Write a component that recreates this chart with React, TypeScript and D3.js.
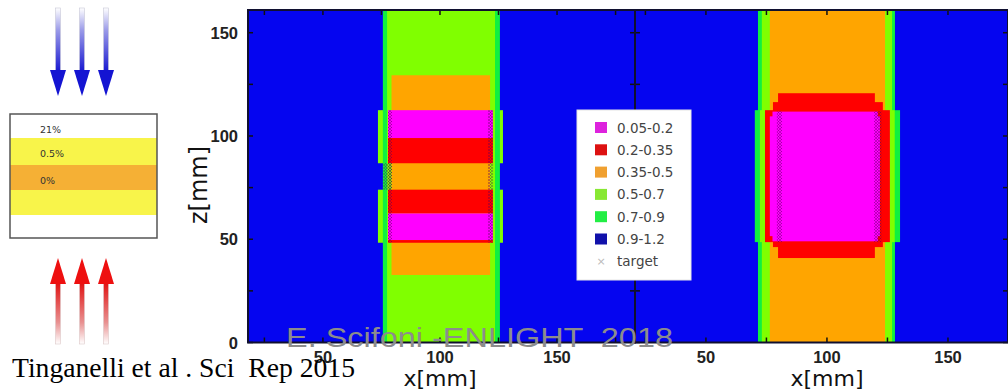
import React from "react";
import * as d3 from "d3";

// Legend categories (value ranges) and colours
const levels = ["0.05-0.2", "0.2-0.35", "0.35-0.5", "0.5-0.7", "0.7-0.9", "0.9-1.2"];
const mapColors = ["#ff00ff", "#ff0000", "#ffa500", "#80ff00", "#10f040", "#0505f0"];
const legendColors = ["#dd22dd", "#dd1111", "#f0a030", "#88e833", "#22ee44", "#1111aa"];

// Cells: [x0, x1, z0, z1, levelIndex] in mm, painted in order
const leftCells: [number, number, number, number, number][] = [
  [18, 183.3, 0, 161, 5],
  [73.5, 126.9, 86.8, 112.5, 3],
  [73.5, 126.9, 48.3, 74, 3],
  [75.6, 125.6, 0, 161, 4],
  [77.4, 123.5, 0, 161, 3],
  [79.3, 121.4, 32.7, 129.4, 2],
  [77.8, 122.6, 99, 112.5, 0],
  [77.8, 122.6, 86.8, 99, 1],
  [77.8, 122.6, 62.5, 74, 1],
  [77.8, 122.6, 49.6, 62.5, 0],
  [77.8, 122.6, 48.3, 49.6, 1],
];

const rightCells: [number, number, number, number, number][] = [
  [20.7, 174.8, 0, 161, 5],
  [71.5, 128.1, 0, 161, 4],
  [70.2, 130.2, 48.6, 112.5, 4],
  [73.1, 126.9, 0, 161, 3],
  [72.3, 128, 48.6, 112.5, 3],
  [76.4, 124, 0, 161, 2],
  [79.8, 119.8, 112, 120.7, 1],
  [77.7, 123.1, 112, 116.4, 1],
  [79.8, 119.8, 40.9, 49, 1],
  [77.7, 123.1, 46.2, 49, 1],
  [74.4, 126, 48.6, 112.5, 1],
  [77.5, 121, 49, 111.8, 0],
  [76.4, 121.9, 51.5, 109.5, 0],
];

// Target marker strips: [x0, x1, z0, z1]
const leftTarget: [number, number, number, number][] = [
  [77.8, 79.5, 48.3, 112.5],
  [120.5, 122.6, 48.3, 112.5],
  [75.8, 79.5, 74, 86.8],
];
const rightTarget: [number, number, number, number][] = [
  [79.3, 81.4, 48.6, 112],
  [119.5, 122.5, 48.6, 112],
];

const xTicks = [25, 50, 75, 100, 125, 150, 175];
const xTickLabels = [50, 100, 150];
const zTicks = [0, 25, 50, 75, 100, 125, 150];
const zTickLabels = [0, 50, 100, 150];

const layers = [
  { label: "21%", color: "#ffffff" },
  { label: "0.5%", color: "#f8f44a" },
  { label: "0%", color: "#f5b035" },
  { label: "", color: "#f8f44a" },
  { label: "", color: "#ffffff" },
];

const arrowXs = [58, 82, 106];

const zScale = d3.scaleLinear().domain([0, 161]).range([342.5, 10]);
const xLeft = d3.scaleLinear().domain([18, 183.3]).range([248, 635]);
const xRight = d3.scaleLinear().domain([20.7, 174.8]).range([635, 1008]);

function Panel({ x, cells, target, id }: { x: d3.ScaleLinear<number, number>; cells: [number, number, number, number, number][]; target: [number, number, number, number][]; id: string }) {
  const [r0, r1] = x.range();
  const y0 = zScale(161), y1 = zScale(0);
  const ticks = xTicks.filter((t) => x(t) > r0 + 2 && x(t) < r1 - 2);
  return (
    <g>
      <clipPath id={id}>
        <rect x={r0} y={y0} width={r1 - r0} height={y1 - y0} />
      </clipPath>
      <g clipPath={`url(#${id})`}>
        {cells.map((c, i) => (
          <rect key={i} x={x(c[0])} width={x(c[1]) - x(c[0])} y={zScale(c[3])} height={zScale(c[2]) - zScale(c[3])} fill={mapColors[c[4]]} />
        ))}
        {target.map((t, i) => (
          <rect key={"t" + i} x={x(t[0])} width={x(t[1]) - x(t[0])} y={zScale(t[3])} height={zScale(t[2]) - zScale(t[3])} fill="url(#xhatch)" />
        ))}
      </g>
      {ticks.map((t) => (
        <g key={"xt" + t}>
          <line x1={x(t)} x2={x(t)} y1={y0} y2={y0 + 5} stroke="#111" strokeWidth={1.5} />
          <line x1={x(t)} x2={x(t)} y1={y1} y2={y1 - 5} stroke="#111" strokeWidth={1.5} />
        </g>
      ))}
      {zTicks.map((t) => (
        <g key={"zt" + t}>
          <line x1={r0} x2={r0 + 5} y1={zScale(t)} y2={zScale(t)} stroke="#111" strokeWidth={1.5} />
          <line x1={r1} x2={r1 - 5} y1={zScale(t)} y2={zScale(t)} stroke="#111" strokeWidth={1.5} />
        </g>
      ))}
      <rect x={r0} y={y0} width={r1 - r0} height={y1 - y0} fill="none" stroke="#101030" strokeWidth={2} />
      {xTickLabels.map((t) => (
        <text key={"xl" + t} x={x(t)} y={363} textAnchor="middle" fontFamily="Liberation Sans, Arial, sans-serif" fontWeight="bold" fontSize={16.5} fill="#222">
          {t}
        </text>
      ))}
      <text x={x(100)} y={386} textAnchor="middle" fontFamily="DejaVu Sans, sans-serif" fontSize={22} fill="#111">
        x[mm]
      </text>
    </g>
  );
}

export default function App() {
  const legendTop = 127.5;
  const legendStep = 22.3;
  return (
    <svg width={1008} height={391} style={{ position: "absolute", left: 0, top: 0 }} xmlns="http://www.w3.org/2000/svg">
      <defs>
        <pattern id="xhatch" width={3} height={3} patternUnits="userSpaceOnUse">
          <path d="M0,0L3,3M3,0L0,3" stroke="rgba(90,0,90,0.45)" strokeWidth={0.8} />
        </pattern>
        <linearGradient id="blueShaft" x1="0" y1="0" x2="0" y2="1">
          <stop offset="0" stopColor="#ffffff" />
          <stop offset="0.35" stopColor="#9a9ae8" />
          <stop offset="1" stopColor="#1616d0" />
        </linearGradient>
        <linearGradient id="redShaft" x1="0" y1="0" x2="0" y2="1">
          <stop offset="0" stopColor="#e01010" />
          <stop offset="0.65" stopColor="#e89090" />
          <stop offset="1" stopColor="#ffffff" />
        </linearGradient>
      </defs>
      <rect x={0} y={0} width={1008} height={391} fill="#ffffff" />

      {/* Left schematic: arrows */}
      {arrowXs.map((ax) => (
        <g key={"b" + ax}>
          <rect x={ax - 2.5} y={8} width={5} height={64} fill="url(#blueShaft)" stroke="#c8c8d8" strokeWidth={0.6} />
          <polygon points={`${ax - 8},70 ${ax + 8},70 ${ax},96`} fill="#1414d2" />
        </g>
      ))}
      {arrowXs.map((ax) => (
        <g key={"r" + ax}>
          <rect x={ax - 2.5} y={282} width={5} height={62} fill="url(#redShaft)" stroke="#dcc8c8" strokeWidth={0.6} />
          <polygon points={`${ax - 8},284 ${ax + 8},284 ${ax},258`} fill="#ee1010" />
        </g>
      ))}
      {/* Left schematic: layered box */}
      {layers.map((l, i) => {
        const ys = [114, 138, 165, 190, 215, 238];
        return (
          <g key={"l" + i}>
            <rect x={10} y={ys[i]} width={147} height={ys[i + 1] - ys[i]} fill={l.color} />
            {l.label && (
              <text x={40} y={ys[i] + 19} fontFamily="DejaVu Sans, sans-serif" fontSize={9.5} fill="#333">
                {l.label}
              </text>
            )}
          </g>
        );
      })}
      <rect x={10} y={114} width={147} height={124} fill="none" stroke="#555" strokeWidth={1.5} />

      {/* Heat map panels */}
      <Panel x={xLeft} cells={leftCells} target={leftTarget} id="clipL" />
      <Panel x={xRight} cells={rightCells} target={rightTarget} id="clipR" />

      {/* z axis tick labels and title */}
      {zTickLabels.map((t) => (
        <text key={"zl" + t} x={238} y={zScale(t) + 6} textAnchor="end" fontFamily="Liberation Sans, Arial, sans-serif" fontWeight="bold" fontSize={16.5} fill="#222">
          {t}
        </text>
      ))}
      <text transform="translate(207,185) rotate(-90)" textAnchor="middle" fontFamily="DejaVu Sans, sans-serif" fontSize={24} fill="#111">
        z[mm]
      </text>

      {/* Legend */}
      <rect x={577} y={110} width={114} height={170} fill="#ffffff" stroke="#e4e4e4" strokeWidth={1} />
      {levels.map((lv, i) => (
        <g key={"lg" + i}>
          <rect x={595} y={legendTop + i * legendStep - 5.5} width={12} height={11} fill={legendColors[i]} />
          <text x={617} y={legendTop + i * legendStep + 5} fontFamily="DejaVu Sans, sans-serif" fontSize={13.5} fill="#444">
            {lv}
          </text>
        </g>
      ))}
      <text x={601} y={legendTop + 6 * legendStep + 4} textAnchor="middle" fontFamily="DejaVu Sans, sans-serif" fontSize={11} fill="#bbb">
        ×
      </text>
      <text x={617} y={legendTop + 6 * legendStep + 5} fontFamily="DejaVu Sans, sans-serif" fontSize={13.5} fill="#444">
        target
      </text>

      {/* Overlay texts */}
      <text x={286} y={347} fontFamily="Liberation Sans, Arial, sans-serif" fontSize={28.5} fill="#8c8c8c" textLength={387} lengthAdjust="spacingAndGlyphs" style={{ whiteSpace: "pre" }}>
        {"E. Scifoni -ENLIGHT  2018"}
      </text>
      <text x={12} y={377} fontFamily="Liberation Serif, Times New Roman, serif" fontSize={27.5} fill="#000" textLength={343} lengthAdjust="spacingAndGlyphs" style={{ whiteSpace: "pre" }}>
        {"Tinganelli et al . Sci  Rep 2015"}
      </text>
    </svg>
  );
}
